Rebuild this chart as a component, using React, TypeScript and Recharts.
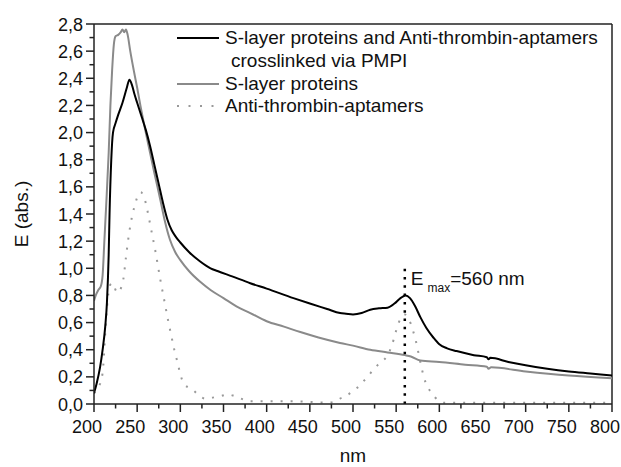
import { LineChart, Line, XAxis, YAxis, ReferenceLine, ReferenceDot } from 'recharts';

// wavelength axis (nm)
const xMajorTicks = [200, 250, 300, 350, 400, 450, 500, 550, 600, 650, 700, 750, 800];
const xMinorTicks = [225, 275, 325, 375, 425, 475, 525, 575, 625, 675, 725, 775];
// extinction axis
const yMajorTicks = [0, 0.2, 0.4, 0.6, 0.8, 1.0, 1.2, 1.4, 1.6, 1.8, 2.0, 2.2, 2.4, 2.6, 2.8];
const yMinorTicks = [0.1, 0.3, 0.5, 0.7, 0.9, 1.1, 1.3, 1.5, 1.7, 1.9, 2.1, 2.3, 2.5, 2.7];

const seriesNames = [
    'S-layer proteins and Anti-thrombin-aptamers',
    'crosslinked via PMPI',
    'S-layer proteins',
    'Anti-thrombin-aptamers',
];

// S-layer proteins + aptamers crosslinked via PMPI
const crossNm = [200, 203, 207, 210, 213, 215, 217, 218, 220, 222, 225, 228, 233, 238, 241, 244, 247, 250, 255, 260, 265, 270, 275, 280, 285, 290, 295, 300, 310, 323, 335, 343, 360, 381, 400, 431, 450, 470, 485, 492, 500, 510, 520, 530, 540, 548, 555, 561, 566, 572, 578, 585, 593, 600, 609, 620, 640, 655, 657, 659, 680, 700, 725, 750, 775, 800];
const crossE = [0.08, 0.15, 0.27, 0.4, 0.57, 0.75, 1.1, 1.4, 1.8, 2.0, 2.07, 2.13, 2.22, 2.33, 2.39, 2.35, 2.28, 2.22, 2.12, 2.02, 1.9, 1.76, 1.62, 1.48, 1.36, 1.28, 1.23, 1.19, 1.12, 1.05, 1.0, 0.98, 0.94, 0.89, 0.85, 0.78, 0.74, 0.7, 0.67, 0.665, 0.66, 0.67, 0.695, 0.705, 0.71, 0.74, 0.78, 0.8, 0.78, 0.72, 0.64, 0.56, 0.49, 0.44, 0.41, 0.39, 0.36, 0.345, 0.33, 0.34, 0.31, 0.285, 0.26, 0.24, 0.225, 0.21];

// S-layer proteins
const slayerNm = [200, 202, 205, 208, 210, 212, 214, 217, 219, 221, 223, 225, 228, 231, 233, 235, 237, 239, 242, 246, 250, 254, 260, 265, 270, 277, 282, 288, 294, 300, 310, 323, 335, 350, 365, 381, 400, 420, 439, 460, 485, 500, 520, 540, 560, 567, 578, 600, 630, 655, 657, 660, 700, 750, 800];
const slayerE = [0.76, 0.8, 0.84, 0.87, 0.95, 1.2, 1.45, 1.85, 2.2, 2.46, 2.65, 2.71, 2.72, 2.74, 2.76, 2.74, 2.76, 2.72, 2.6, 2.46, 2.33, 2.19, 2.0, 1.85, 1.7, 1.5, 1.35, 1.21, 1.12, 1.06, 0.98, 0.9, 0.84, 0.78, 0.72, 0.67, 0.61, 0.57, 0.53, 0.49, 0.45, 0.43, 0.4, 0.38, 0.36, 0.35, 0.32, 0.31, 0.29, 0.275, 0.26, 0.27, 0.24, 0.21, 0.19];

// Anti-thrombin-aptamers
const aptNm = [200, 205, 210, 213, 216, 219, 222, 225, 228, 231, 234, 237, 240, 244, 248, 251, 254, 257, 260, 263, 267, 271, 274, 277, 280, 283, 286, 289, 293, 297, 300, 304, 310, 315, 322, 329, 340, 348, 355, 362, 370, 381, 400, 430, 450, 472, 480, 485, 492, 499, 505, 511, 517, 523, 529, 535, 540, 545, 549, 553, 557, 560, 563, 567, 570, 573, 576, 579, 582, 586, 590, 595, 600, 605, 650, 700, 800];
const aptE = [0.08, 0.12, 0.23, 0.52, 0.78, 0.88, 0.89, 0.84, 0.82, 0.85, 0.92, 1.08, 1.23, 1.38, 1.48, 1.54, 1.56, 1.54, 1.48, 1.39, 1.26, 1.13, 1.02, 0.91, 0.81, 0.71, 0.61, 0.52, 0.4, 0.3, 0.22, 0.15, 0.12, 0.1, 0.06, 0.04, 0.05, 0.06, 0.07, 0.06, 0.04, 0.02, 0.02, 0.02, 0.015, 0.01, 0.02, 0.04, 0.06, 0.09, 0.12, 0.16, 0.2, 0.25, 0.29, 0.32, 0.36, 0.43, 0.52, 0.6, 0.65, 0.66, 0.64, 0.59, 0.53, 0.46, 0.37, 0.28, 0.2, 0.13, 0.09, 0.05, 0.02, 0.01, 0.01, 0.01, 0.01];

const eMaxNm = 560;
const eMaxTop = 1.0;

const toRows = (nm: number[], e: number[]) => nm.map((v, i) => ({ nm: v, e: e[i] }));
const crossData = toRows(crossNm, crossE);
const slayerData = toRows(slayerNm, slayerE);
const aptData = toRows(aptNm, aptE);

const FONT = '"Liberation Sans", Arial, sans-serif';
const AXIS = '#222';
const TEXT = '#111';

const XTick = ({ x, y, payload }: any) => {
    const major = payload.value % 50 === 0;
    return (
        <g>
            <line x1={x} x2={x} y1={y} y2={y + (major ? 8 : 4.5)} stroke={AXIS} strokeWidth={1.5} />
            {major && (
                // labels in the original sit a little left of their ticks
                <text x={x - 7} y={y + 29} textAnchor="middle" fontSize={18} fontFamily={FONT} fill={TEXT}>
                    {payload.value}
                </text>
            )}
        </g>
    );
};

const YTick = ({ x, y, payload }: any) => {
    const major = Math.round(payload.value * 10) % 2 === 0;
    return (
        <g>
            <line x1={x - (major ? 8 : 4.5)} x2={x} y1={y} y2={y} stroke={AXIS} strokeWidth={1.5} />
            {major && (
                <text x={x - 11} y={y + 6.5} textAnchor="end" fontSize={18} fontFamily={FONT} fill={TEXT}>
                    {payload.value.toFixed(1).replace('.', ',')}
                </text>
            )}
        </g>
    );
};

export default function App() {
    const xTicks = [...xMajorTicks, ...xMinorTicks].sort((a, b) => a - b);
    const yTicks = [...yMajorTicks, ...yMinorTicks].sort((a, b) => a - b);

    return (
        <div style={{ position: 'absolute', left: 0, top: 0, width: 621, height: 467, background: '#fff' }}>
            <LineChart width={621} height={467} margin={{ top: 24, right: 9, bottom: 0, left: 0 }}>
                <XAxis
                    type="number"
                    dataKey="nm"
                    domain={[200, 800]}
                    ticks={xTicks}
                    interval={0}
                    tickSize={0}
                    tickMargin={0}
                    tickLine={false}
                    tick={<XTick />}
                    height={63}
                    axisLine={{ stroke: AXIS, strokeWidth: 1.5 }}
                    allowDataOverflow
                    label={{
                        content: ({ viewBox }: any) => (
                            <text x={viewBox.x + viewBox.width / 2} y={462} textAnchor="middle" fontSize={19} fontFamily={FONT} fill={TEXT}>
                                nm
                            </text>
                        ),
                    }}
                />
                <YAxis
                    type="number"
                    dataKey="e"
                    domain={[0, 2.8]}
                    ticks={yTicks}
                    interval={0}
                    tickSize={0}
                    tickMargin={0}
                    tickLine={false}
                    tick={<YTick />}
                    width={94}
                    axisLine={{ stroke: AXIS, strokeWidth: 1.5 }}
                    allowDataOverflow
                    label={{
                        content: ({ viewBox }: any) => {
                            const cy = viewBox.y + viewBox.height / 2;
                            return (
                                <text x={28} y={cy} transform={`rotate(-90, 28, ${cy})`} textAnchor="middle" fontSize={19} fontFamily={FONT} fill={TEXT}>
                                    E (abs.)
                                </text>
                            );
                        },
                    }}
                />
                {/* frame */}
                <ReferenceLine y={2.8} stroke={AXIS} strokeWidth={1.5} />
                <ReferenceLine x={800} stroke={AXIS} strokeWidth={1.5} />

                <Line data={aptData} dataKey="e" type="monotone" stroke="#999" strokeWidth={2} strokeDasharray="2 8" dot={false} isAnimationActive={false} />
                <Line data={slayerData} dataKey="e" type="monotone" stroke="#8a8a8a" strokeWidth={2} dot={false} isAnimationActive={false} />
                <Line data={crossData} dataKey="e" type="monotone" stroke="#000" strokeWidth={2} dot={false} isAnimationActive={false} />

                {/* E max marker */}
                <ReferenceLine
                    segment={[{ x: eMaxNm, y: 0 }, { x: eMaxNm, y: eMaxTop }]}
                    stroke="#000"
                    strokeWidth={2.5}
                    strokeDasharray="2.5 5.8"
                />
                <ReferenceDot
                    x={eMaxNm}
                    y={eMaxTop}
                    r={0}
                    fill="none"
                    stroke="none"
                    label={{
                        content: ({ viewBox }: any) => (
                            <text x={viewBox.x + 6} y={viewBox.y + 17} fontSize={19} fontFamily={FONT} fill={TEXT}>
                                E
                                <tspan dx={4} dy={7} fontSize={12}>max</tspan>
                                <tspan dy={-7}>=560 nm</tspan>
                            </text>
                        ),
                    }}
                />
            </LineChart>

            {/* legend */}
            <svg width={621} height={130} style={{ position: 'absolute', left: 0, top: 0, pointerEvents: 'none' }}>
                <line x1={177} x2={219} y1={38} y2={38} stroke="#000" strokeWidth={2} />
                <text x={225} y={44} fontSize={19} fontFamily={FONT} fill={TEXT}>{seriesNames[0]}</text>
                <text x={231} y={67} fontSize={19} fontFamily={FONT} fill={TEXT}>{seriesNames[1]}</text>
                <line x1={177} x2={219} y1={84} y2={84} stroke="#8a8a8a" strokeWidth={2} />
                <text x={225} y={90} fontSize={19} fontFamily={FONT} fill={TEXT}>{seriesNames[2]}</text>
                <line x1={177} x2={219} y1={106} y2={106} stroke="#999" strokeWidth={2} strokeDasharray="2 9.5" />
                <text x={225} y={112} fontSize={19} fontFamily={FONT} fill={TEXT}>{seriesNames[3]}</text>
            </svg>
        </div>
    );
}
